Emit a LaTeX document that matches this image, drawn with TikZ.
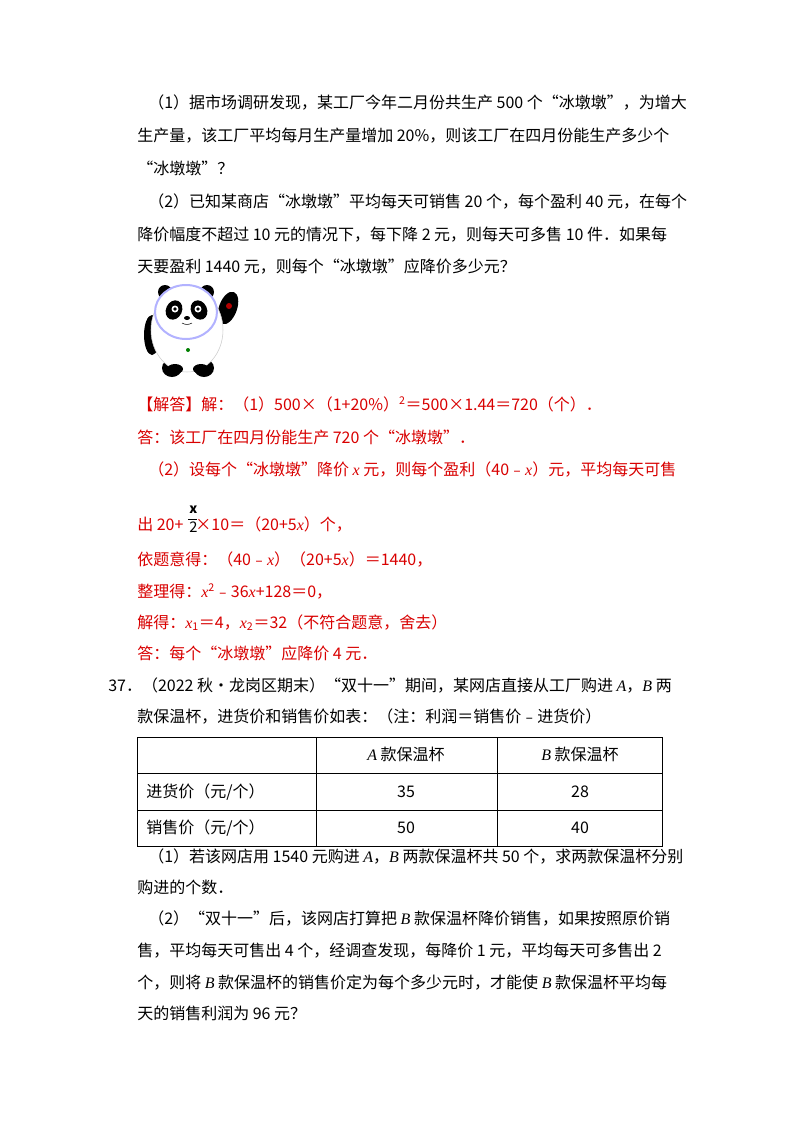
\documentclass[tikz,border=0pt]{standalone}
\usepackage{fontspec}
\setmainfont{Noto Sans CJK SC}
\newfontfamily\enfont{Liberation Serif}
\newcommand\ix{{\enfont\itshape x}}
\begin{document}
\begin{tikzpicture}[x=0.75pt,y=-0.75pt,
  ln/.style={anchor=base west,inner sep=0pt,font=\fontsize{12}{14}\selectfont},
  rd/.style={ln,text=red!85!black},
  cell/.style={anchor=base,inner sep=0pt,font=\fontsize{12}{14}\selectfont}]
\useasboundingbox (0,0) rectangle (800,1132);
\fill[white] (0,0) rectangle (800,1132);
\node[ln] (l1) at (148,108) {（1）据市场调研发现，某工厂今年二月份共生产 500 个“冰墩墩”，为增大};
\node[ln] (l2) at (137,141) {生产量，该工厂平均每月生产量增加 20\%，则该工厂在四月份能生产多少个};
\node[ln] (l3) at (137,174) {“冰墩墩”？};
\node[ln] (l4) at (148,207) {（2）已知某商店“冰墩墩”平均每天可销售 20 个，每个盈利 40 元，在每个};
\node[ln] (l5) at (137,240) {降价幅度不超过 10 元的情况下，每下降 2 元，则每天可多售 10 件．如果每};
\node[ln] (l6) at (137,272) {天要盈利 1440 元，则每个“冰墩墩”应降价多少元？};
% panda
\begin{scope}
\fill[black] (165,292) circle (7); \fill[black] (207,292) circle (7);
\fill[black] (152,335) ellipse (8 and 20);
\fill[black,rotate around={-20:(228,308)}] (228,308) ellipse (9 and 17);
\fill[red!70!black] (229,306) circle (3);
\fill[black] (172,368) ellipse (10 and 9); \fill[black] (204,368) ellipse (10 and 9);
\filldraw[fill=white,draw=gray!40] (187,330) ellipse (36 and 42);
\filldraw[fill=white,draw=blue!30,line width=1.5pt] (186,312) ellipse (31 and 27);
\fill[black] (175,369) ellipse (8 and 5); \fill[black] (201,369) ellipse (8 and 5);
\fill[black,rotate around={-25:(174,310)}] (174,310) ellipse (8 and 10);
\fill[black,rotate around={25:(199,310)}] (199,310) ellipse (8 and 10);
\fill[white] (175,309) circle (3.5); \fill[white] (198,309) circle (3.5);
\fill[black] (175,309) circle (1.8); \fill[black] (198,309) circle (1.8);
\fill[black] (187,318) ellipse (3 and 2);
\draw (182,323) to[bend right] (192,323);
\fill[green!50!black] (188,350) circle (2);
\end{scope}
\node[rd] (a1) at (137,410) {【解答】解：（1）500×（1+20\%）\textsuperscript{2}＝500×1.44＝720（个）．};
\node[rd] (a2) at (137,443) {答：该工厂在四月份能生产 720 个“冰墩墩”．};
\node[rd] (a3) at (148,475) {（2）设每个“冰墩墩”降价 \ix\ 元，则每个盈利（40﹣\ix）元，平均每天可售};
\node[rd] (a4) at (137,530) {出 20+\hspace{9pt}×10＝（20+5\ix）个，};
\node[ln,font=\fontsize{10}{12}\selectfont\bfseries] (fx) at (189,513) {x};
\draw[line width=0.6pt] (188,519) -- (197,519);
\node[ln,font=\fontsize{11}{12}\selectfont] (f2) at (189,532) {2};
\node[rd] (a5) at (137,565) {依题意得：（40﹣\ix）（20+5\ix）＝1440，};
\node[rd] (a6) at (137,597) {整理得：\ix\textsuperscript{2}﹣36\ix+128＝0，};
\node[rd] (a7) at (137,628) {解得：\ix\textsubscript{1}＝4，\ix\textsubscript{2}＝32（不符合题意，舍去）};
\node[rd] (a8) at (137,659) {答：每个“冰墩墩”应降价 4 元．};
\node[ln] (q1) at (108,691) {37．（2022 秋•龙岗区期末）“双十一”期间，某网店直接从工厂购进 {\enfont\itshape A}，{\enfont\itshape B} 两};
\node[ln] (q2) at (137,722) {款保温杯，进货价和销售价如表：（注：利润＝销售价﹣进货价）};
\draw[line width=0.6pt] (137,737) rectangle (662,846);
\draw[line width=0.6pt] (137,773) -- (662,773) (137,810) -- (662,810) (316,737) -- (316,846) (497,737) -- (497,846);
\node[cell] (hA) at (406,760) {{\enfont\itshape A} 款保温杯};
\node[cell] (hB) at (580,760) {{\enfont\itshape B} 款保温杯};
\node[ln] (r1) at (146,797) {进货价（元/个）};
\node[cell] (v1) at (406,797) {35};
\node[cell] (v2) at (580,797) {28};
\node[ln] (r2) at (146,833) {销售价（元/个）};
\node[cell] (v3) at (406,833) {50};
\node[cell] (v4) at (580,833) {40};
\node[ln] (b1) at (148,862) {（1）若该网店用 1540 元购进 {\enfont\itshape A}，{\enfont\itshape B} 两款保温杯共 50 个，求两款保温杯分别};
\node[ln] (b2) at (137,893) {购进的个数．};
\node[ln] (b3) at (148,924) {（2）“双十一”后，该网店打算把 {\enfont\itshape B} 款保温杯降价销售，如果按照原价销};
\node[ln] (b4) at (137,956) {售，平均每天可售出 4 个，经调查发现，每降价 1 元，平均每天可多售出 2};
\node[ln] (b5) at (137,988) {个，则将 {\enfont\itshape B} 款保温杯的销售价定为每个多少元时，才能使 {\enfont\itshape B} 款保温杯平均每};
\node[ln] (b6) at (137,1019) {天的销售利润为 96 元？};
\end{tikzpicture}
\end{document}
